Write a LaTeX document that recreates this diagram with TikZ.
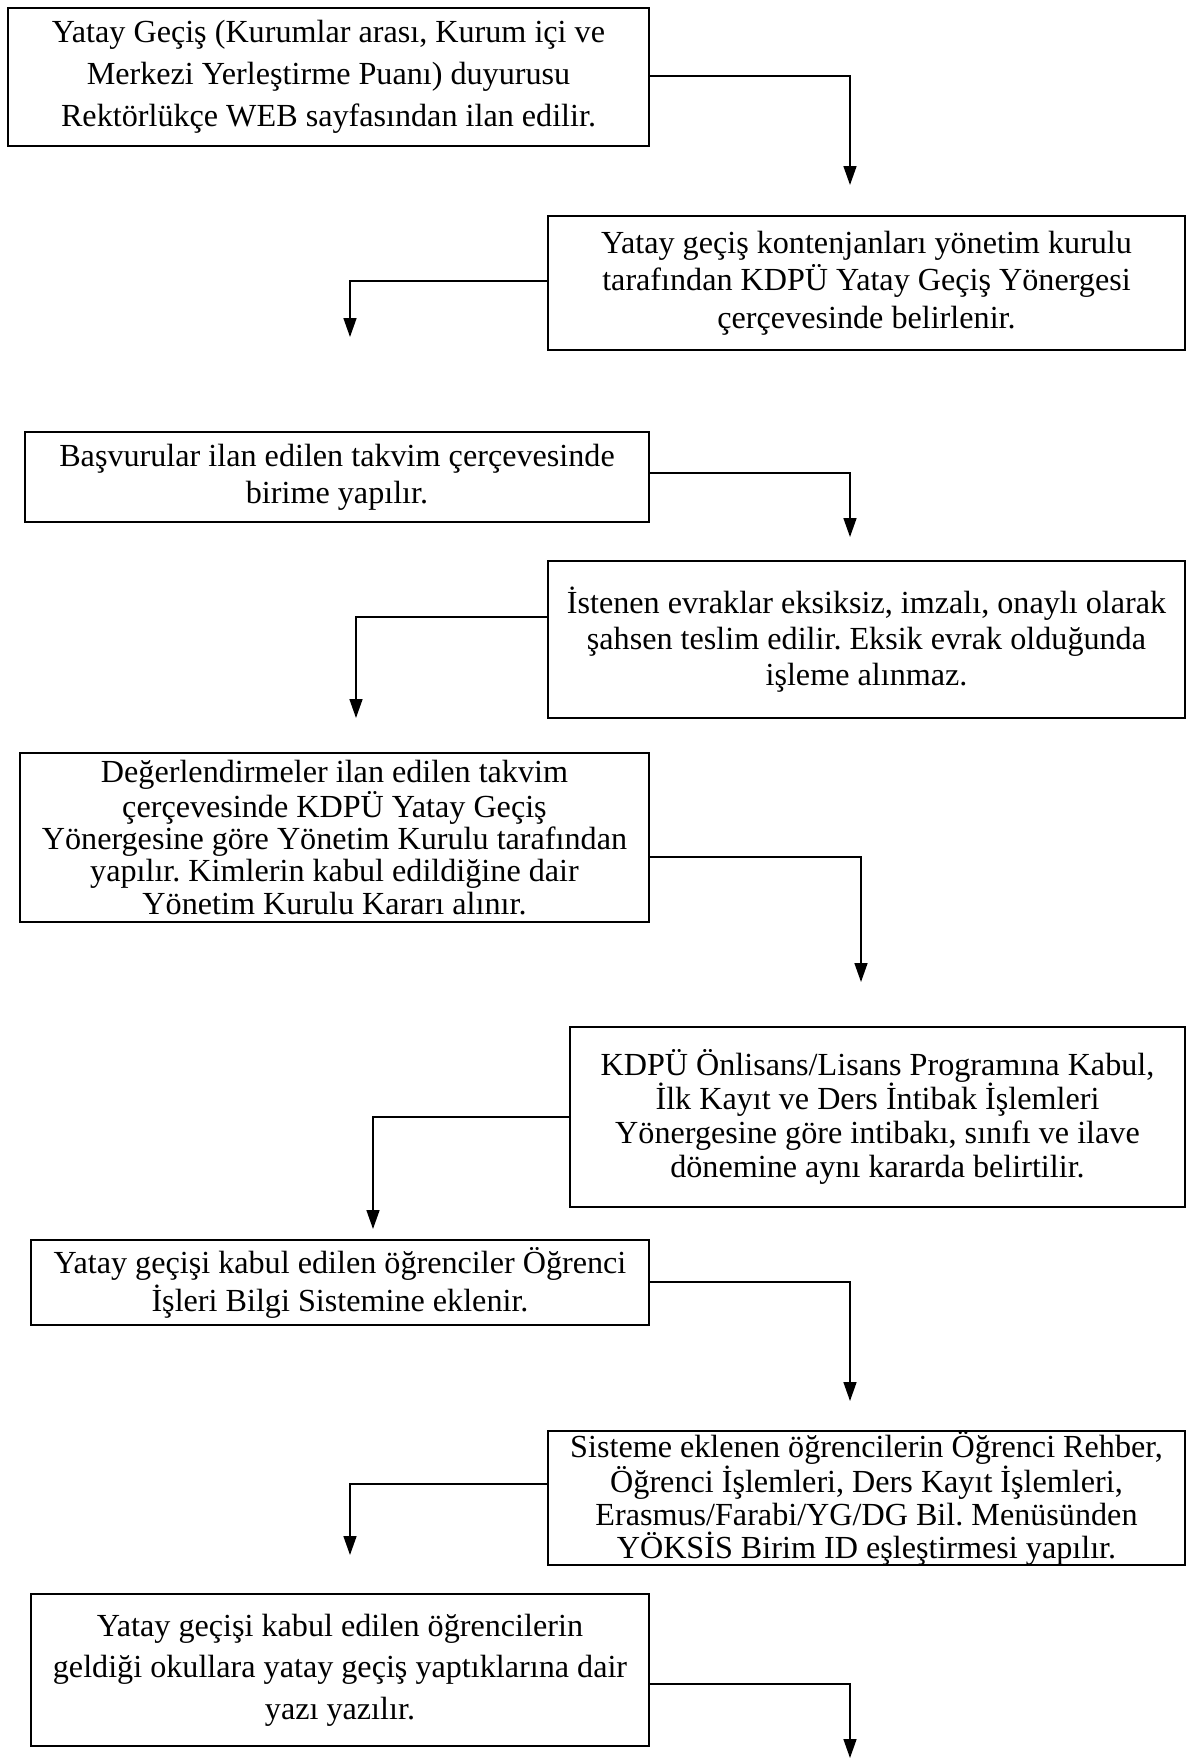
\documentclass[tikz,border=0pt]{standalone}
\usepackage{fontspec}
\setmainfont{Liberation Serif}
\usetikzlibrary{arrows.meta}
\frenchspacing

\tikzset{
	stepbox/.style={draw, line width=1.1pt, align=center, inner sep=0pt,
		font=\fontsize{18.3}{#1}\selectfont},
	stepbox/.default=21pt,
	flow/.style={line width=0.9pt, -{Triangle[length=3.8mm, width=2.6mm]}}
}

\begin{document}
\begin{tikzpicture}[x=0.2mm, y=-0.2mm]
	\useasboundingbox (0, 0) rectangle (1190, 1760);

	\node[stepbox=24pt, minimum width=128.2mm, minimum height=27.6mm] (1) at (328.5, 77)
		{Yatay Geçiş (Kurumlar arası, Kurum içi ve\\Merkezi Yerleştirme Puanı) duyurusu\\Rektörlükçe WEB sayfasından ilan edilir.};
	\node[stepbox=21.3pt, minimum width=127.4mm, minimum height=26.8mm] (2) at (866.5, 283)
		{Yatay geçiş kontenjanları yönetim kurulu\\tarafından KDPÜ Yatay Geçiş Yönergesi\\çerçevesinde belirlenir.};
	\node[stepbox=21pt, minimum width=124.8mm, minimum height=18mm] (3) at (337, 477)
		{Başvurular ilan edilen takvim çerçevesinde\\birime yapılır.};
	\node[stepbox=20.4pt, minimum width=127.4mm, minimum height=31.4mm] (4) at (866.5, 639.5)
		{İstenen evraklar eksiksiz, imzalı, onaylı olarak\\şahsen teslim edilir. Eksik evrak olduğunda\\işleme alınmaz.};
	\node[stepbox=18.4pt, minimum width=125.8mm, minimum height=33.8mm] (5) at (334.5, 837.5)
		{Değerlendirmeler ilan edilen takvim\\çerçevesinde KDPÜ Yatay Geçiş\\Yönergesine göre Yönetim Kurulu tarafından\\yapılır. Kimlerin kabul edildiğine dair\\Yönetim Kurulu Kararı alınır.};
	\node[stepbox=19.5pt, minimum width=123mm, minimum height=36mm] (6) at (877.5, 1117)
		{KDPÜ Önlisans/Lisans Programına Kabul,\\İlk Kayıt ve Ders İntibak İşlemleri\\Yönergesine göre intibakı, sınıfı ve ilave\\dönemine aynı kararda belirtilir.};
	\node[stepbox=21.7pt, minimum width=123.6mm, minimum height=17mm] (7) at (340, 1282.5)
		{Yatay geçişi kabul edilen öğrenciler Öğrenci\\İşleri Bilgi Sistemine eklenir.};
	\node[stepbox=18.7pt, minimum width=127.4mm, minimum height=26.8mm] (8) at (866.5, 1498)
		{Sisteme eklenen öğrencilerin Öğrenci Rehber,\\Öğrenci İşlemleri, Ders Kayıt İşlemleri,\\Erasmus/Farabi/YG/DG Bil. Menüsünden\\YÖKSİS Birim ID eşleştirmesi yapılır.};
	\node[stepbox=23.6pt, minimum width=123.6mm, minimum height=30.4mm] (9) at (340, 1670)
		{Yatay geçişi kabul edilen öğrencilerin\\geldiği okullara yatay geçiş yaptıklarına dair\\yazı yazılır.};

	% Corners and arrow tips of the connectors
	\coordinate (k1) at (850, 76);    \coordinate (t1) at (850, 185);
	\coordinate (k2) at (350, 281);   \coordinate (t2) at (350, 337);
	\coordinate (k3) at (850, 473);   \coordinate (t3) at (850, 537);
	\coordinate (k4) at (356, 617);   \coordinate (t4) at (356, 718);
	\coordinate (k5) at (861, 857);   \coordinate (t5) at (861, 982);
	\coordinate (k6) at (373, 1117);  \coordinate (t6) at (373, 1229);
	\coordinate (k7) at (850, 1282);  \coordinate (t7) at (850, 1401);
	\coordinate (k8) at (350, 1484);  \coordinate (t8) at (350, 1555);
	\coordinate (k9) at (850, 1684);  \coordinate (t9) at (850, 1758);

	% Draw the connectors between the steps
	\draw[flow] (1.east |- k1) -- (k1) -- (t1);
	\draw[flow] (2.west |- k2) -- (k2) -- (t2);
	\draw[flow] (3.east |- k3) -- (k3) -- (t3);
	\draw[flow] (4.west |- k4) -- (k4) -- (t4);
	\draw[flow] (5.east |- k5) -- (k5) -- (t5);
	\draw[flow] (6.west |- k6) -- (k6) -- (t6);
	\draw[flow] (7.east |- k7) -- (k7) -- (t7);
	\draw[flow] (8.west |- k8) -- (k8) -- (t8);
	\draw[flow] (9.east |- k9) -- (k9) -- (t9);
\end{tikzpicture}
\end{document}
